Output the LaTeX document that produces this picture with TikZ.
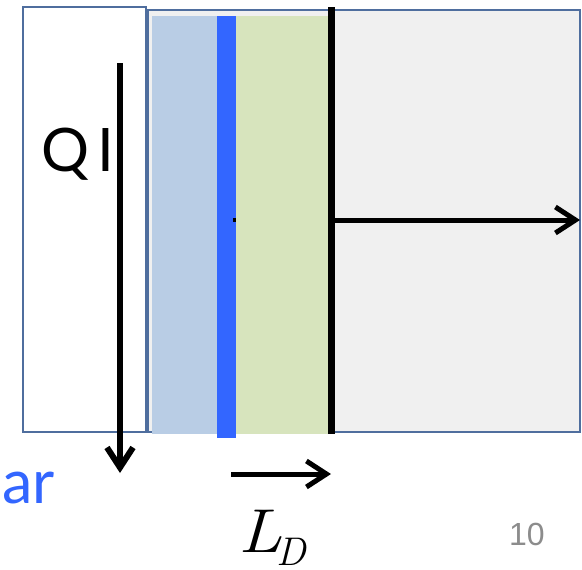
\documentclass[tikz,border=0pt]{standalone}
\usepackage{fontspec}
\usepackage{graphicx}
\newfontfamily\latofont{Lato}
\newfontfamily\numfont{Liberation Sans}
\usetikzlibrary{arrows.meta}
\definecolor{boxedge}{HTML}{4F6E9E}
\definecolor{lightblue}{HTML}{B9CDE5}
\definecolor{barblue}{HTML}{3366FF}
\definecolor{lightgreen}{HTML}{D7E4BD}
\definecolor{panelgray}{HTML}{F0F0F0}
\definecolor{pagegray}{HTML}{8C8C8C}
\begin{document}
\begin{tikzpicture}[x=1pt,y=-1pt,
  arr/.style={line width=#1, -{Straight Barb[length=20pt,width=26pt]}},
  frame/.style={draw=boxedge, line width=1.5pt},
  lbl/.style={inner sep=0pt, anchor=base west}]
\useasboundingbox (0,0) rectangle (582,570);
% boxes
\draw[frame] (23,7) rectangle (146,432);
\draw[frame, fill=panelgray] (148,10) rectangle (580,432);
\fill[lightblue] (152,16) rectangle (217,434);
\fill[lightgreen] (235,16) rectangle (328,434);
\fill[barblue] (217,16) rectangle (236,438);
\fill (233,218) rectangle (236,222);
\draw[line width=7pt] (331.5,7) -- (331.5,434);
% arrows
\coordinate (h0) at (335,220);
\coordinate (h1) at (580,220);
\draw[arr=5pt] (h0) -- (h1);
\coordinate (v0) at (120,63);
\coordinate (v1) at (120,473);
\draw[arr=6pt] (v0) -- (v1);
\coordinate (s0) at (231,474);
\coordinate (s1) at (331,474);
\draw[arr=5pt] (s0) -- (s1);
% labels
\node[lbl] (qi) at (41,171) {\latofont\fontsize{60}{60}\selectfont Q\kern8pt I};
\node[lbl, text=barblue] (ar) at (2,503) {\latofont\fontsize{61}{61}\selectfont ar};
\node[lbl] (ld) at (238,552) {\scalebox{1.15}[1]{\fontsize{62}{62}\selectfont\itshape L}\kern-5pt\raisebox{-13pt}{\fontsize{40}{40}\selectfont\itshape D}};
\node[lbl, text=pagegray] (pg) at (509,545) {\numfont\fontsize{32}{32}\selectfont 10};
\end{tikzpicture}
\end{document}
